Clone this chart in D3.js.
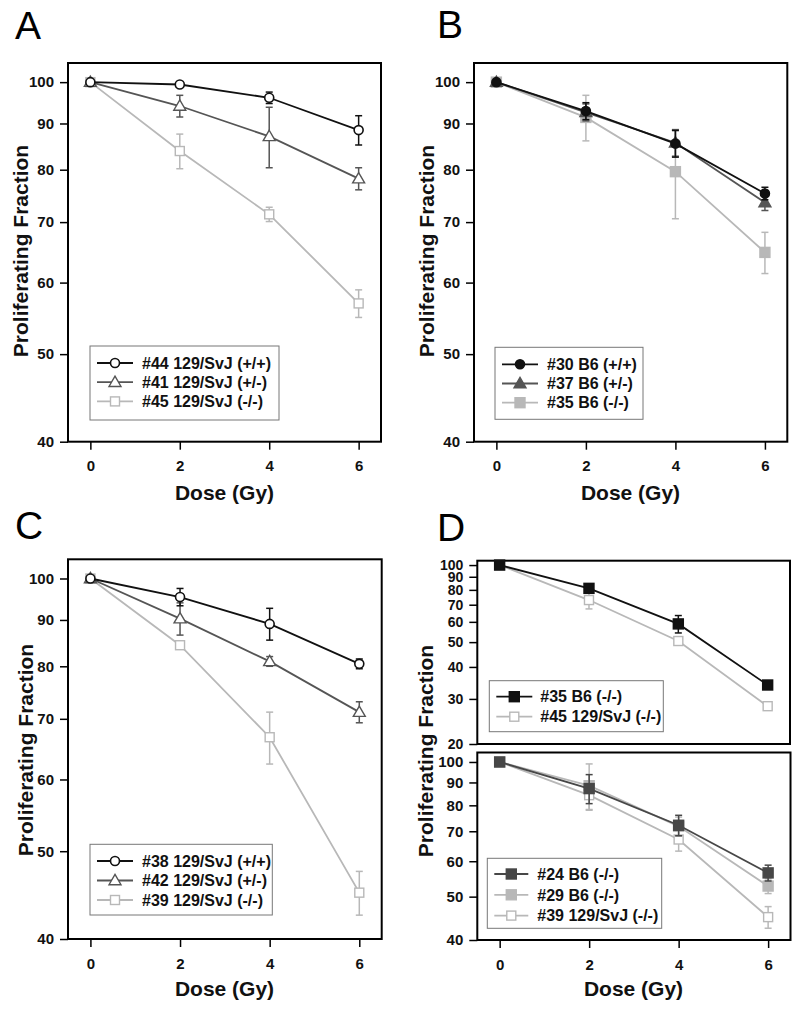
<!DOCTYPE html>
<html><head><meta charset="utf-8">
<script src="https://cdn.jsdelivr.net/npm/d3@7"></script>
<style>body{margin:0;background:#fff}svg{display:block}text{font-family:"Liberation Sans",Arial,sans-serif}</style>
</head><body>
<svg id="c" width="800" height="1011"></svg>
<script>
// ---- data ----
const dose = [0, 2, 4, 6];
const xTicks = [0, 2, 4, 6];
const yTicks40 = [40, 50, 60, 70, 80, 90, 100];
const yTicks20 = [20, 30, 40, 50, 60, 70, 80, 90, 100];

// Panel A
const a44 = [100, 99.4, 96.1, 88.5], a44e = [0.3, 0.4, 1.4, 3.3];
const a41 = [100, 94.1, 87.1, 78.2], a41e = [0.3, 2.6, 6.7, 2.2];
const a45 = [100, 83.9, 71.4, 56.9], a45e = [0.3, 3.7, 1.3, 2.0];
// Panel B
const b30 = [100, 92.9, 85.5, 75.3], b30e = [0.6, 2.0, 2.9, 1.2];
const b37 = [100, 92.6, 85.7, 73.6], b37e = [0.3, 2.0, 2.9, 1.5];
const b35 = [100, 91.4, 79.6, 64.8], b35e = [0.3, 5.3, 9.0, 3.4];
// Panel C
const c38 = [100, 95.4, 89.1, 80.5], c38e = [0.3, 2.1, 3.6, 1.0];
const c42 = [100, 90.3, 81.0, 71.2], c42e = [0.3, 3.7, 1.0, 1.9];
const c39 = [100, 84.4, 66.8, 45.0], c39e = [0.3, 0.5, 4.4, 2.5];
// Panel D (top)
const d35 = [100, 81.1, 58.9, 34.0], d35e = [0.5, 1.5, 4.6, 0.5];
const d45 = [100, 73.0, 50.5, 28.1], d45e = [0.5, 5.6, 1.0, 1.0];
// Panel D (bottom)
const d24 = [100, 87.2, 72.2, 56.5], d24e = [0.3, 6.5, 3.8, 2.3];
const d29 = [100, 88.5, 71.8, 52.8], d29e = [0.3, 10.5, 3.5, 2.0];
const d39 = [100, 84.3, 67.1, 45.0], d39e = [0.3, 6.0, 3.9, 2.5];

const BLACK = "#111", DARK = "#555", DARK2 = "#474747", LIGHT = "#b8b8b8";

const svg = d3.select("#c");

function panel(o) {
  const x = d3.scaleLinear().domain([-0.5, 6.5]).range([o.x0, o.x1]);
  const y = d3.scaleLog().domain(o.yDom).range([o.y1, o.y0]);
  const g = svg.append("g");
  const fs = o.tickFont || 15;
  // y axis
  const ya = g.append("g").attr("transform", `translate(${o.x0},0)`)
    .call(d3.axisLeft(y).tickValues(o.yTicks).tickFormat(d3.format("d")).tickSize(8).tickPadding(6));
  ya.select(".domain").remove();
  ya.selectAll("line").attr("stroke", "#000").attr("stroke-width", 1.5);
  ya.selectAll("text").style("font-size", fs + "px").style("font-weight", "bold").attr("fill", "#111");
  if (o.xAxis) {
    const xa = g.append("g").attr("transform", `translate(0,${o.y1})`)
      .call(d3.axisBottom(x).tickValues(xTicks).tickFormat(d3.format("d")).tickSize(8).tickPadding(11));
    xa.select(".domain").remove();
    xa.selectAll("line").attr("stroke", "#000").attr("stroke-width", 1.5);
    xa.selectAll("text").style("font-size", "15px").style("font-weight", "bold").attr("fill", "#111");
  }
  // frame
  g.append("rect").attr("x", o.x0).attr("y", o.y0).attr("width", o.x1 - o.x0).attr("height", o.y1 - o.y0)
    .attr("fill", "none").attr("stroke", "#000").attr("stroke-width", 2);
  // legend box
  const L = o.legend;
  g.append("rect").attr("x", L.x).attr("y", L.y).attr("width", L.w).attr("height", L.h)
    .attr("fill", "#fff").attr("stroke", "#777").attr("stroke-width", 1);
  // series (draw last first)
  const line = d3.line().x((d, i) => x(dose[i])).y(d => y(d));
  o.series.slice().reverse().forEach(s => {
    const sg = g.append("g");
    sg.append("path").attr("d", line(s.v)).attr("fill", "none").attr("stroke", s.c).attr("stroke-width", 1.8);
    s.v.forEach((v, i) => {
      const e = s.e[i];
      if (e > 0.8) {
        const cx = x(dose[i]);
        sg.append("line").attr("x1", cx).attr("x2", cx).attr("y1", y(v + e)).attr("y2", y(v - e)).attr("stroke", s.c).attr("stroke-width", 1.5);
        [v + e, v - e].forEach(w => sg.append("line").attr("x1", cx - 3.5).attr("x2", cx + 3.5).attr("y1", y(w)).attr("y2", y(w)).attr("stroke", s.c).attr("stroke-width", 1.5));
      }
    });
    s.v.forEach((v, i) => marker(sg, s, x(dose[i]), y(v)));
  });
  // legend entries
  o.series.forEach((s, i) => {
    const ly = L.y + L.first + i * L.step;
    g.append("line").attr("x1", L.x + 7).attr("x2", L.x + 7 + L.lineLen).attr("y1", ly).attr("y2", ly).attr("stroke", s.c).attr("stroke-width", 1.8);
    marker(g, s, L.x + 7 + L.lineLen / 2, ly);
    g.append("text").attr("x", L.x + L.textX).attr("y", ly).attr("dy", "0.36em").style("font-size", "16px").style("font-weight", "bold").attr("fill", "#111").text(s.name);
  });
  return {x, y};
}

function marker(g, s, cx, cy) {
  const fill = s.open ? "#fff" : s.c;
  if (s.shape === "circle") {
    g.append("circle").attr("cx", cx).attr("cy", cy).attr("r", 4.5).attr("fill", fill).attr("stroke", s.c).attr("stroke-width", 1.6);
  } else if (s.shape === "triangle") {
    g.append("path").attr("d", d3.symbol(d3.symbolTriangle, 62)()).attr("transform", `translate(${cx},${cy + 0.8})`)
      .attr("fill", fill).attr("stroke", s.c).attr("stroke-width", 1.4);
  } else {
    const sz = s.open ? 9 : 10;
    g.append("rect").attr("x", cx - sz / 2).attr("y", cy - sz / 2).attr("width", sz).attr("height", sz)
      .attr("fill", fill).attr("stroke", s.c).attr("stroke-width", 1.4);
  }
}

function label(txt, x, y) {
  svg.append("text").attr("x", x).attr("y", y).style("font-size", "39px").attr("fill", "#000").text(txt);
}
function yTitle(x, y) {
  svg.append("text").attr("transform", `translate(${x},${y}) rotate(-90)`).attr("text-anchor", "middle").attr("dy", "0.36em")
    .style("font-size", "21px").style("font-weight", "bold").attr("fill", "#111").text("Proliferating Fraction");
}
function xTitle(x, y) {
  svg.append("text").attr("x", x).attr("y", y).attr("text-anchor", "middle").attr("dy", "0.36em")
    .style("font-size", "21px").style("font-weight", "bold").attr("fill", "#111").text("Dose (Gy)");
}

// Panel A
panel({x0: 68, x1: 381, y0: 63, y1: 441.7, yDom: [40, 105], yTicks: yTicks40, xAxis: true,
  legend: {x: 90, y: 346, w: 189, h: 74, first: 17, step: 19.2, lineLen: 36, textX: 52},
  series: [
    {name: "#44 129/SvJ (+/+)", v: a44, e: a44e, c: BLACK, shape: "circle", open: true},
    {name: "#41 129/SvJ (+/-)", v: a41, e: a41e, c: DARK, shape: "triangle", open: true},
    {name: "#45 129/SvJ (-/-)", v: a45, e: a45e, c: LIGHT, shape: "square", open: true}]});
label("A", 15, 39); yTitle(20, 251); xTitle(224.5, 492);

// Panel B
panel({x0: 474, x1: 787.3, y0: 63, y1: 441.7, yDom: [40, 105], yTicks: yTicks40, xAxis: true,
  legend: {x: 495, y: 347.3, w: 148, h: 72, first: 17, step: 19.2, lineLen: 36, textX: 52},
  series: [
    {name: "#30 B6 (+/+)", v: b30, e: b30e, c: BLACK, shape: "circle", open: false},
    {name: "#37 B6 (+/-)", v: b37, e: b37e, c: DARK, shape: "triangle", open: false},
    {name: "#35 B6 (-/-)", v: b35, e: b35e, c: LIGHT, shape: "square", open: false}]});
label("B", 437, 38); yTitle(426, 251); xTitle(630.5, 492);

// Panel C
panel({x0: 68, x1: 381.7, y0: 559.3, y1: 939, yDom: [40, 105], yTicks: yTicks40, xAxis: true,
  legend: {x: 90, y: 844.3, w: 182.3, h: 70.7, first: 16.7, step: 19.5, lineLen: 36, textX: 52},
  series: [
    {name: "#38 129/SvJ (+/+)", v: c38, e: c38e, c: BLACK, shape: "circle", open: true},
    {name: "#42 129/SvJ (+/-)", v: c42, e: c42e, c: DARK, shape: "triangle", open: true},
    {name: "#39 129/SvJ (-/-)", v: c39, e: c39e, c: LIGHT, shape: "square", open: true}]});
label("C", 15, 539); yTitle(25, 750); xTitle(224.5, 988.5);

// Panel D top
panel({x0: 477.3, x1: 790, y0: 560.7, y1: 744, yDom: [20, 104], yTicks: yTicks20, xAxis: false, tickFont: 14,
  legend: {x: 489.3, y: 680.7, w: 174, h: 51, first: 16, step: 20, lineLen: 36, textX: 51},
  series: [
    {name: "#35 B6 (-/-)", v: d35, e: d35e, c: BLACK, shape: "square", open: false},
    {name: "#45 129/SvJ (-/-)", v: d45, e: d45e, c: LIGHT, shape: "square", open: true}]});
// Panel D bottom
panel({x0: 477.3, x1: 790.5, y0: 752.5, y1: 940, yDom: [40, 105], yTicks: yTicks40, xAxis: true,
  legend: {x: 487.3, y: 858.3, w: 174.4, h: 70, first: 15.7, step: 20.8, lineLen: 34, textX: 50},
  series: [
    {name: "#24 B6 (-/-)", v: d24, e: d24e, c: DARK2, shape: "square", open: false},
    {name: "#29 B6 (-/-)", v: d29, e: d29e, c: LIGHT, shape: "square", open: false},
    {name: "#39 129/SvJ (-/-)", v: d39, e: d39e, c: LIGHT, shape: "square", open: true}]});
label("D", 437, 541); yTitle(425, 751); xTitle(633.5, 988.5);
</script>
</body></html>
